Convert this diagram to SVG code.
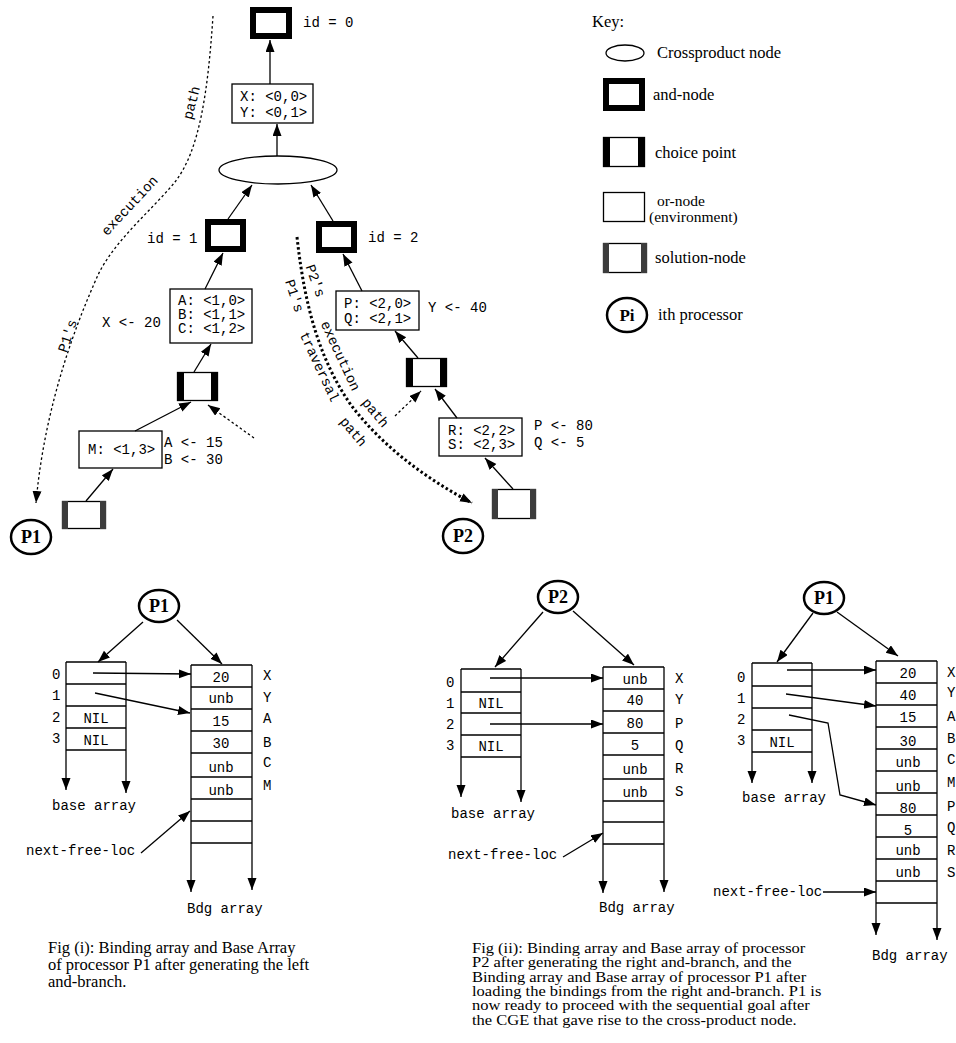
<svg xmlns="http://www.w3.org/2000/svg" width="956" height="1043" viewBox="0 0 956 1043">
<defs>
<marker id="ah" markerUnits="userSpaceOnUse" markerWidth="13" markerHeight="10" refX="12" refY="4.5" orient="auto">
<path d="M0,0 L12,4.5 L0,9 z" fill="#000"/>
</marker>
<style>
.mono{font-family:"Liberation Mono",monospace;font-size:14px;fill:#000}
.serif{font-family:"Liberation Serif",serif;font-size:16.5px;fill:#000}
.bold{font-family:"Liberation Serif",serif;font-weight:bold;font-size:18px;fill:#000}
.ln{stroke:#000;stroke-width:1.3;fill:none}
.arr{stroke:#000;stroke-width:1.3;fill:none;marker-end:url(#ah)}
.dash{stroke:#000;stroke-width:1.3;fill:none;stroke-dasharray:2.5,2.5;marker-end:url(#ah)}
.thick{stroke:#000;stroke-width:3;fill:none;stroke-dasharray:2.5,2.5;marker-end:url(#ah)}
.box{fill:#fff;stroke:#000;stroke-width:1.3}
.and{fill:#fff;stroke:#000;stroke-width:6}
.circ{fill:#fff;stroke:#000;stroke-width:2.5}
.cp{fill:#000}
.sol{fill:#3c3c3c}
.mid{text-anchor:middle}
</style>
</defs>
<rect width="956" height="1043" fill="#fff"/>

<!-- ===== top tree ===== -->
<g id="and0"><rect class="and" x="253" y="10" width="36" height="26"/><text class="mono" x="303" y="27">id = 0</text></g>
<g id="env0"><rect class="box" x="232" y="84" width="81" height="39"/><text class="mono" x="240" y="101">X: &lt;0,0&gt;</text><text class="mono" x="240" y="117">Y: &lt;0,1&gt;</text></g>
<g id="cross"><ellipse cx="278" cy="170" rx="59" ry="14" fill="#fff" stroke="#000" stroke-width="1.3"/></g>
<g id="and1"><rect class="and" x="208" y="222" width="35" height="27"/><text class="mono" x="147" y="243">id = 1</text></g>
<g id="and2"><rect class="and" x="319" y="224" width="35" height="26"/><text class="mono" x="368" y="242">id = 2</text></g>
<g id="envABC"><rect class="box" x="170" y="289" width="82" height="54"/><text class="mono" x="178" y="305">A: &lt;1,0&gt;</text><text class="mono" x="178" y="319">B: &lt;1,1&gt;</text><text class="mono" x="178" y="333">C: &lt;1,2&gt;</text><text class="mono" x="102" y="327">X &lt;- 20</text></g>
<g id="choice1"><rect class="box" x="177.5" y="372.5" width="40" height="28"/><rect class="cp" x="177" y="372" width="7" height="29"/><rect class="cp" x="211" y="372" width="7" height="29"/></g>
<g id="envM"><rect class="box" x="79" y="431" width="83" height="37"/><text class="mono" x="88" y="454">M: &lt;1,3&gt;</text><text class="mono" x="164" y="447">A &lt;- 15</text><text class="mono" x="164" y="464">B &lt;- 30</text></g>
<g id="sol1"><rect class="box" x="62.5" y="501.5" width="43" height="27"/><rect class="sol" x="62" y="501" width="6" height="28"/><rect class="sol" x="100" y="501" width="6" height="28"/></g>
<g id="p1top"><ellipse class="circ" cx="31" cy="537" rx="20" ry="17"/><text class="bold mid" x="31" y="543">P1</text></g>
<g id="envPQ"><rect class="box" x="336" y="291" width="83" height="39"/><text class="mono" x="344" y="308">P: &lt;2,0&gt;</text><text class="mono" x="344" y="323">Q: &lt;2,1&gt;</text><text class="mono" x="428" y="312">Y &lt;- 40</text></g>
<g id="choice2"><rect class="box" x="406.5" y="358.5" width="40" height="28"/><rect class="cp" x="406" y="358" width="7" height="29"/><rect class="cp" x="440" y="358" width="7" height="29"/></g>
<g id="envRS"><rect class="box" x="439" y="418" width="83" height="38"/><text class="mono" x="448" y="435">R: &lt;2,2&gt;</text><text class="mono" x="448" y="449">S: &lt;2,3&gt;</text><text class="mono" x="534" y="430">P &lt;- 80</text><text class="mono" x="534" y="447">Q &lt;- 5</text></g>
<g id="sol2"><rect class="box" x="492.5" y="489.5" width="43" height="29"/><rect class="sol" x="492" y="489" width="6" height="30"/><rect class="sol" x="530" y="489" width="6" height="30"/></g>
<g id="p2top"><ellipse class="circ" cx="463" cy="536" rx="20" ry="17"/><text class="bold mid" x="463" y="542">P2</text></g>

<g id="connectors-top">
<line class="arr" x1="270" y1="84" x2="270" y2="40"/>
<line class="arr" x1="277" y1="156" x2="277" y2="124"/>
<line class="arr" x1="228" y1="219" x2="252" y2="185"/>
<line class="arr" x1="333" y1="221" x2="311" y2="185"/>
<line class="arr" x1="205" y1="289" x2="223" y2="253"/>
<line class="arr" x1="362" y1="291" x2="343" y2="254"/>
<line class="arr" x1="194" y1="372" x2="211" y2="344"/>
<line class="arr" x1="135" y1="431" x2="191" y2="402"/>
<line class="arr" x1="86" y1="501" x2="113" y2="469"/>
<line class="dash" x1="254" y1="438" x2="208" y2="405"/>
<line class="arr" x1="418" y1="358" x2="395" y2="331"/>
<line class="arr" x1="457" y1="418" x2="435" y2="389"/>
<line class="dash" x1="395" y1="416" x2="421" y2="391"/>
<line class="arr" x1="513" y1="489" x2="485" y2="458"/>
<path class="dash" d="M213,16 C208,90 200,150 175,182 C150,212 115,240 98,275 C80,315 45,400 36,503"/>
<path class="thick" d="M297,237 C305,310 321,362 351,405 C382,446 425,478 472,503"/>
</g>

<g id="path-labels">
<text class="mono mid" transform="translate(192,103) rotate(-76)" dy="4">path</text>
<text class="mono mid" transform="translate(130,206) rotate(-47)" dy="4">execution</text>
<text class="mono mid" transform="translate(68,336) rotate(-72)" dy="4">P1's</text>
<text class="mono mid" transform="translate(315,281) rotate(70)" dy="4">P2's</text>
<text class="mono mid" transform="translate(340,356) rotate(65)" dy="4">execution</text>
<text class="mono mid" transform="translate(375,413) rotate(50)" dy="4">path</text>
<text class="mono mid" transform="translate(294,296) rotate(72)" dy="4">P1's</text>
<text class="mono mid" transform="translate(319,367) rotate(65)" dy="4">traversal</text>
<text class="mono mid" transform="translate(353,432) rotate(50)" dy="4">path</text>
</g>

<!-- ===== key ===== -->
<g id="key">
<text class="serif" x="592" y="27">Key:</text>
<ellipse cx="625" cy="53" rx="19" ry="8" fill="#fff" stroke="#000" stroke-width="1.3"/>
<text class="serif" x="657" y="58">Crossproduct node</text>
<rect class="and" x="606" y="81" width="36" height="27"/>
<text class="serif" x="653" y="100">and-node</text>
<rect class="box" x="603.5" y="137.5" width="41" height="29"/><rect class="cp" x="603" y="137" width="7" height="30"/><rect class="cp" x="638" y="137" width="7" height="30"/>
<text class="serif" x="655" y="158">choice point</text>
<rect class="box" x="603.5" y="192.5" width="41" height="29"/>
<text class="serif" x="657" y="206" style="font-size:15.5px">or-node</text>
<text class="serif" x="649" y="222" style="font-size:15.5px">(environment)</text>
<rect class="box" x="603.5" y="243.5" width="43" height="29"/><rect class="sol" x="603" y="243" width="6" height="30"/><rect class="sol" x="641" y="243" width="6" height="30"/>
<text class="serif" x="655" y="263">solution-node</text>
<ellipse class="circ" cx="627" cy="315" rx="20" ry="17"/><text class="bold mid" x="627" y="321" style="font-size:17px">Pi</text>
<text class="serif" x="658" y="320">ith processor</text>
</g>

<!-- ===== Fig (i) ===== -->
<g id="fig1-p1"><ellipse class="circ" cx="159" cy="606" rx="20" ry="16"/><text class="bold mid" x="159" y="612">P1</text></g>
<g id="fig1-base">
<path class="ln" d="M66,662 H126 M66,684 H126 M66,706 H126 M66,728 H126 M66,750 H126"/>
<line class="arr" x1="66" y1="662" x2="66" y2="790"/>
<line class="arr" x1="126" y1="662" x2="126" y2="793"/>
<text class="mono" x="52" y="679">0</text><text class="mono" x="52" y="700">1</text><text class="mono" x="52" y="722">2</text><text class="mono" x="52" y="743">3</text>
<text class="mono mid" x="96" y="723">NIL</text><text class="mono mid" x="96" y="745">NIL</text>
<text class="mono" x="52" y="810">base array</text>
</g>
<g id="fig1-bdg">
<path class="ln" d="M191,665 H252 M191,687 H252 M191,709 H252 M191,731 H252 M191,753 H252 M191,777 H252 M191,799 H252 M191,821 H252 M191,843 H252"/>
<line class="arr" x1="191" y1="665" x2="191" y2="892"/>
<line class="arr" x1="252" y1="665" x2="252" y2="890"/>
<text class="mono mid" x="221" y="682">20</text><text class="mono mid" x="221" y="703">unb</text><text class="mono mid" x="221" y="726">15</text><text class="mono mid" x="221" y="748">30</text><text class="mono mid" x="221" y="772">unb</text><text class="mono mid" x="221" y="795">unb</text>
<text class="mono" x="263" y="680">X</text><text class="mono" x="263" y="702">Y</text><text class="mono" x="263" y="723">A</text><text class="mono" x="263" y="747">B</text><text class="mono" x="263" y="767">C</text><text class="mono" x="263" y="790">M</text>
<text class="mono" x="187" y="913">Bdg array</text>
<text class="mono" x="26" y="855">next-free-loc</text>
</g>
<g id="fig1-connectors">
<line class="arr" x1="143" y1="622" x2="98" y2="662"/>
<line class="arr" x1="177" y1="620" x2="222" y2="664"/>
<line class="arr" x1="93" y1="673" x2="191" y2="674"/>
<line class="arr" x1="95" y1="693" x2="190" y2="713"/>
<line class="arr" x1="141" y1="853" x2="190" y2="811"/>
</g>
<g id="caption1">
<text class="serif" x="48" y="953">Fig (i): Binding array and Base Array</text>
<text class="serif" x="48" y="970">of processor P1 after generating the left</text>
<text class="serif" x="48" y="987">and-branch.</text>
</g>

<!-- ===== Fig (ii) P2 ===== -->
<g id="fig2-p2"><ellipse class="circ" cx="558" cy="597" rx="20" ry="16"/><text class="bold mid" x="558" y="603">P2</text></g>
<g id="fig2-base">
<path class="ln" d="M461,669 H521 M461,692 H521 M461,713 H521 M461,735 H521 M461,757 H521"/>
<line class="arr" x1="461" y1="669" x2="461" y2="797"/>
<line class="arr" x1="521" y1="669" x2="521" y2="802"/>
<text class="mono" x="446" y="687">0</text><text class="mono" x="446" y="708">1</text><text class="mono" x="446" y="729">2</text><text class="mono" x="446" y="750">3</text>
<text class="mono mid" x="491" y="708">NIL</text><text class="mono mid" x="491" y="751">NIL</text>
<text class="mono" x="451" y="818">base array</text>
</g>
<g id="fig2-bdg">
<path class="ln" d="M603,667 H664 M603,689 H664 M603,711 H664 M603,733 H664 M603,755 H664 M603,779 H664 M603,801 H664 M603,822 H664 M603,844 H664"/>
<line class="arr" x1="603" y1="667" x2="603" y2="893"/>
<line class="arr" x1="664" y1="667" x2="664" y2="892"/>
<text class="mono mid" x="635" y="684">unb</text><text class="mono mid" x="635" y="705">40</text><text class="mono mid" x="635" y="728">80</text><text class="mono mid" x="635" y="750">5</text><text class="mono mid" x="635" y="774">unb</text><text class="mono mid" x="635" y="797">unb</text>
<text class="mono" x="675" y="683">X</text><text class="mono" x="675" y="704">Y</text><text class="mono" x="675" y="728">P</text><text class="mono" x="675" y="750">Q</text><text class="mono" x="675" y="773">R</text><text class="mono" x="675" y="796">S</text>
<text class="mono" x="599" y="912">Bdg array</text>
<text class="mono" x="448" y="859">next-free-loc</text>
</g>
<g id="fig2-connectors">
<line class="arr" x1="543" y1="612" x2="495" y2="667"/>
<line class="arr" x1="573" y1="611" x2="634" y2="665"/>
<line class="arr" x1="490" y1="678" x2="603" y2="678"/>
<line class="arr" x1="490" y1="724" x2="603" y2="724"/>
<line class="arr" x1="563" y1="857" x2="603" y2="833"/>
</g>

<!-- ===== Fig (ii) P1 ===== -->
<g id="fig3-p1"><ellipse class="circ" cx="824" cy="598" rx="20" ry="16"/><text class="bold mid" x="824" y="604">P1</text></g>
<g id="fig3-base">
<path class="ln" d="M752,663 H812 M752,686 H812 M752,708 H812 M752,730 H812 M752,752 H812"/>
<line class="arr" x1="752" y1="663" x2="752" y2="783"/>
<line class="arr" x1="812" y1="663" x2="812" y2="783"/>
<text class="mono" x="737" y="682">0</text><text class="mono" x="737" y="703">1</text><text class="mono" x="737" y="724">2</text><text class="mono" x="737" y="745">3</text>
<text class="mono mid" x="782" y="747">NIL</text>
<text class="mono" x="742" y="802">base array</text>
</g>
<g id="fig3-bdg">
<path class="ln" d="M876,661 H937 M876,683 H937 M876,705 H937 M876,727 H937 M876,749 H937 M876,771 H937 M876,793 H937 M876,815 H937 M876,837 H937 M876,859 H937 M876,881 H937 M876,903 H937"/>
<line class="arr" x1="876" y1="661" x2="876" y2="935"/>
<line class="arr" x1="937" y1="661" x2="937" y2="940"/>
<text class="mono mid" x="908" y="678">20</text><text class="mono mid" x="908" y="700">40</text><text class="mono mid" x="908" y="722">15</text><text class="mono mid" x="908" y="746">30</text><text class="mono mid" x="908" y="767">unb</text><text class="mono mid" x="908" y="791">unb</text><text class="mono mid" x="908" y="813">80</text><text class="mono mid" x="908" y="835">5</text><text class="mono mid" x="908" y="855">unb</text><text class="mono mid" x="908" y="877">unb</text>
<text class="mono" x="947" y="677">X</text><text class="mono" x="947" y="697">Y</text><text class="mono" x="947" y="721">A</text><text class="mono" x="947" y="743">B</text><text class="mono" x="947" y="764">C</text><text class="mono" x="947" y="787">M</text><text class="mono" x="947" y="811">P</text><text class="mono" x="947" y="832">Q</text><text class="mono" x="947" y="855">R</text><text class="mono" x="947" y="877">S</text>
<text class="mono" x="872" y="960">Bdg array</text>
<text class="mono" x="713" y="896">next-free-loc</text>
</g>
<g id="fig3-connectors">
<line class="arr" x1="813" y1="613" x2="777" y2="662"/>
<line class="arr" x1="837" y1="612" x2="898" y2="656"/>
<line class="arr" x1="787" y1="670" x2="876" y2="670"/>
<line class="arr" x1="786" y1="694" x2="876" y2="706"/>
<polyline class="arr" points="789,715 828,723 840,795 876,805"/>
<line class="arr" x1="823" y1="892" x2="876" y2="892"/>
</g>
<g id="caption2" transform="translate(472,953) scale(1,0.86)">
<text class="serif" x="0" y="0">Fig (ii): Binding array and Base array of processor</text>
<text class="serif" x="0" y="16.7">P2 after generating the right and-branch, and the</text>
<text class="serif" x="0" y="33.4">Binding array and Base array of processor P1 after</text>
<text class="serif" x="0" y="50.1">loading the bindings from the right and-branch. P1 is</text>
<text class="serif" x="0" y="66.8">now ready to proceed with the sequential goal after</text>
<text class="serif" x="0" y="83.5">the CGE that gave rise to the cross-product node.</text>
</g>
</svg>
